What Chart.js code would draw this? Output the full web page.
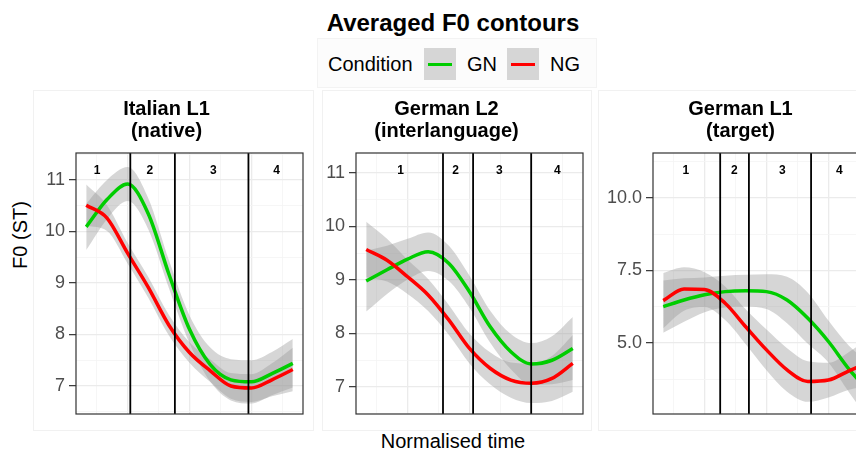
<!DOCTYPE html>
<html>
<head>
<meta charset="utf-8">
<script src="https://cdn.jsdelivr.net/npm/chart.js@4.4.1/dist/chart.umd.min.js"></script>
<style>
  html, body { margin: 0; padding: 0; background: #fff; }
  #page { position: relative; width: 856px; height: 454px; overflow: hidden; font-family: "Liberation Sans", Arial, sans-serif; color: #000; }
  .sub { position: absolute; border: 1px solid #f1f1f1; box-sizing: border-box; }
  .txt { position: absolute; white-space: nowrap; }
  canvas { position: absolute; }
  #legend { position: absolute; left: 317px; top: 38px; width: 280px; height: 50px; background: #fcfcfc; border: 1px solid #f3f3f3; box-sizing: border-box; }
  .key { position: absolute; top: 48px; width: 32px; height: 32px; background: #d6d6d6; }
  .key div { position: absolute; left: 4px; right: 4px; top: 14.5px; height: 3.5px; }
</style>
</head>
<body>
<div id="page">
  <div class="sub" style="left:33px;top:90px;width:281px;height:341px"></div>
  <div class="sub" style="left:322px;top:90px;width:270px;height:341px"></div>
  <div class="sub" style="left:598px;top:90px;width:300px;height:341px"></div>

  <div class="txt" style="left:0;top:9px;width:906px;text-align:center;font-weight:bold;font-size:24px;line-height:28px">Averaged F0 contours</div>

  <div id="legend"></div>
  <div class="txt" style="left:328px;top:52px;font-size:20px;line-height:24px">Condition</div>
  <div class="key" style="left:424px"><div style="background:#00cd00"></div></div>
  <div class="txt" style="left:467px;top:52px;font-size:20px;line-height:24px">GN</div>
  <div class="key" style="left:507px"><div style="background:#ff0000"></div></div>
  <div class="txt" style="left:550px;top:52px;font-size:20px;line-height:24px">NG</div>

  <div class="txt" style="left:-80px;top:223px;width:200px;text-align:center;font-size:20px;line-height:24px;transform:rotate(-90deg)">F0 (ST)</div>
  <div class="txt" style="left:0;top:429px;width:906px;text-align:center;font-size:20px;line-height:24px">Normalised time</div>

  <canvas id="p1" width="274" height="317" style="left:30px;top:98px"></canvas>
  <canvas id="p2" width="274" height="317" style="left:310px;top:98px"></canvas>
  <canvas id="p3" width="280" height="317" style="left:601px;top:98px"></canvas>
</div>
<script>
// normalised time of the smoothed samples
const time = [0.083, 0.167, 0.25, 0.333, 0.417, 0.5, 0.583, 0.667, 0.75, 0.833, 0.917];
const segmentLabels = ['1', '2', '3', '4'];

// Italian L1 (native)
const italianGN   = [10.09, 10.62, 10.92, 10.35, 9.17, 8.10, 7.42, 7.12, 7.08, 7.24, 7.44];
const italianGNse = [0.45, 0.38, 0.33, 0.30, 0.27, 0.27, 0.33, 0.40, 0.42, 0.42, 0.47];
const italianNG   = [10.51, 10.26, 9.58, 8.92, 8.18, 7.65, 7.30, 7.00, 6.96, 7.12, 7.32];
const italianNGse = [0.40, 0.25, 0.20, 0.20, 0.20, 0.20, 0.22, 0.25, 0.27, 0.32, 0.42];
const italianBounds = [0.261, 0.441, 0.738];
const italianSegMid = [0.127, 0.34, 0.596, 0.852];

// German L2 (interlanguage)
const l2GN   = [8.98, 9.19, 9.39, 9.53, 9.31, 8.78, 8.13, 7.66, 7.43, 7.50, 7.72];
const l2GNse = [0.57, 0.45, 0.38, 0.36, 0.33, 0.30, 0.30, 0.33, 0.39, 0.45, 0.59];
const l2NG   = [9.57, 9.37, 9.06, 8.72, 8.25, 7.72, 7.35, 7.13, 7.07, 7.16, 7.44];
const l2NGse = [0.52, 0.40, 0.32, 0.30, 0.28, 0.28, 0.30, 0.33, 0.37, 0.42, 0.53];
const l2Bounds = [0.393, 0.5145, 0.749];
const l2SegMid = [0.222, 0.444, 0.62, 0.855];

// German L1 (target)
const targetGN   = [6.25, 6.48, 6.66, 6.77, 6.80, 6.77, 6.48, 5.85, 5.05, 4.10, 3.30];
const targetGNse = [0.90, 0.75, 0.60, 0.55, 0.55, 0.60, 0.80, 0.88, 0.72, 0.80, 1.00];
const targetNG   = [6.46, 6.86, 6.84, 6.37, 5.55, 4.76, 4.07, 3.67, 3.72, 4.04, 4.35];
const targetNGse = [0.95, 0.75, 0.60, 0.58, 0.60, 0.70, 0.75, 0.70, 0.60, 0.65, 0.85];
const targetBounds = [0.313, 0.429, 0.680];
const targetSegMid = [0.174, 0.37, 0.564, 0.794];

const GREEN = '#00cd00';
const RED = '#ff0000';
const BAND = 'rgba(153,153,153,0.4)';

Chart.defaults.font.family = '"Liberation Sans", Arial, sans-serif';

function near(v, step) {
  return Math.abs(v / step - Math.round(v / step)) < 1e-6;
}

const segmentText = {
  id: 'segmentText',
  afterDatasetsDraw(chart, args, opts) {
    const { ctx, chartArea, scales } = chart;
    ctx.save();
    ctx.font = 'bold 12px "Liberation Sans", Arial, sans-serif';
    ctx.fillStyle = '#000';
    ctx.textAlign = 'center';
    ctx.textBaseline = 'middle';
    opts.positions.forEach((p, i) => {
      ctx.fillText(segmentLabels[i], scales.x.getPixelForValue(p), chartArea.top + 18);
    });
    ctx.restore();
  }
};

const frame = {
  id: 'frame',
  afterDraw(chart) {
    const { ctx, chartArea } = chart;
    ctx.save();
    ctx.strokeStyle = '#333333';
    ctx.lineWidth = 1.2;
    ctx.strokeRect(chartArea.left, chartArea.top, chartArea.right - chartArea.left, chartArea.bottom - chartArea.top);
    ctx.restore();
  }
};

function pts(vals, se, sign) {
  return time.map((t, i) => ({ x: t, y: vals[i] + (se ? sign * se[i] : 0) }));
}

function makePanel(id, title, gn, gnSe, ng, ngSe, bounds, segMid, yMin, yMax, yStep, yMajor, decimals, axisWidth) {
  const smooth = { pointRadius: 0, cubicInterpolationMode: 'monotone' };
  const datasets = [];
  bounds.forEach(b => {
    datasets.push({
      data: [{ x: b, y: yMin }, { x: b, y: yMax }],
      borderColor: '#000', borderWidth: 1.8, pointRadius: 0, tension: 0, order: 0
    });
  });
  datasets.push({ label: 'NG', data: pts(ng), borderColor: RED, borderWidth: 3.5, order: 1, ...smooth });
  datasets.push({ label: 'GN', data: pts(gn), borderColor: GREEN, borderWidth: 3.5, order: 1.5, ...smooth });
  [[gn, gnSe], [ng, ngSe]].forEach(([v, s]) => {
    datasets.push({ data: pts(v, s, 1), fill: '+1', backgroundColor: BAND, borderColor: 'rgba(0,0,0,0)', borderWidth: 0, order: 2, ...smooth });
    datasets.push({ data: pts(v, s, -1), fill: false, borderColor: 'rgba(0,0,0,0)', borderWidth: 0, order: 2, ...smooth });
  });

  new Chart(document.getElementById(id), {
    type: 'line',
    data: { datasets },
    plugins: [segmentText, frame],
    options: {
      responsive: false,
      animation: false,
      layout: { padding: { left: 0, right: 1, top: 0, bottom: 1 } },
      plugins: {
        legend: { display: false },
        tooltip: { enabled: false },
        title: {
          display: true,
          text: title,
          color: '#000',
          font: { size: 20, weight: 'bold', lineHeight: 1.1 },
          padding: { top: 0, bottom: 11 }
        },
        segmentText: { positions: segMid }
      },
      scales: {
        x: {
          type: 'linear',
          min: 0.0417, max: 0.9583,
          afterFit: s => { s.height = 0; s.paddingLeft = 0; s.paddingRight = 0; },
          border: { display: false },
          ticks: { display: false, stepSize: 0.125, includeBounds: false },
          grid: {
            drawTicks: false,
            color: c => near(c.tick.value, 0.25) ? '#ebebeb' : '#f4f4f4',
            lineWidth: c => near(c.tick.value, 0.25) ? 1.3 : 0.8
          }
        },
        y: {
          min: yMin, max: yMax,
          afterFit: s => { s.width = axisWidth; s.paddingTop = 0; s.paddingBottom = 0; },
          border: { display: false },
          ticks: {
            stepSize: yStep,
            includeBounds: false,
            autoSkip: false,
            padding: 4,
            color: '#4d4d4d',
            font: { size: 18 },
            callback: v => near(v, yMajor) ? v.toFixed(decimals) : ''
          },
          grid: {
            tickLength: 7,
            tickWidth: 1.2,
            tickColor: c => near(c.tick.value, yMajor) ? '#333333' : 'rgba(0,0,0,0)',
            color: c => near(c.tick.value, yMajor) ? '#ebebeb' : '#f4f4f4',
            lineWidth: c => near(c.tick.value, yMajor) ? 1.3 : 0.8
          }
        }
      }
    }
  });
}

makePanel('p1', ['Italian L1', '(native)'], italianGN, italianGNse, italianNG, italianNGse,
  italianBounds, italianSegMid, 6.456, 11.524, 0.5, 1, 0, 46);
makePanel('p2', ['German L2', '(interlanguage)'], l2GN, l2GNse, l2NG, l2NGse,
  l2Bounds, l2SegMid, 6.495, 11.374, 0.5, 1, 0, 46);
makePanel('p3', ['German L1', '(target)'], targetGN, targetGNse, targetNG, targetNGse,
  targetBounds, targetSegMid, 2.55, 11.55, 1.25, 2.5, 1, 52);
</script>
</body>
</html>
